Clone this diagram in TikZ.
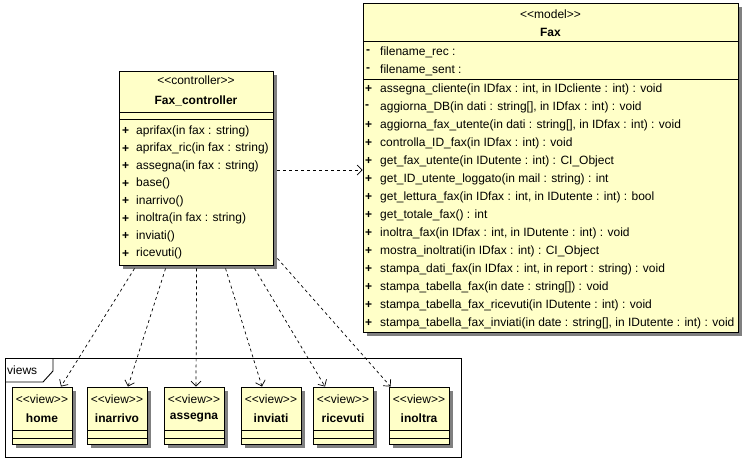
\documentclass[tikz,border=0pt]{standalone}
\usepackage{fontspec}
\setmainfont{Liberation Sans}
\usetikzlibrary{shadows}
\usetikzlibrary{arrows.meta}
\definecolor{umlyellow}{RGB}{255,255,200}
\newcommand{\stereo}[1]{<\kern0pt<#1>\kern0pt>}
\tikzstyle{umlbox}=[draw,fill=umlyellow,line width=0.9pt,inner sep=0pt,drop shadow={shadow xshift=4pt,shadow yshift=-4pt,fill=black!50,opacity=1}]
\tikzstyle{umltext}=[anchor=west,inner sep=0pt]
\tikzstyle{umlvis}=[anchor=west,inner sep=0pt,font=\fontsize{12}{14}\selectfont\bfseries]
\tikzstyle{umlhead}=[inner sep=0pt]
\tikzstyle{umlname}=[inner sep=0pt,font=\fontsize{12}{14}\selectfont\bfseries]
\tikzstyle{umlline}=[line width=0.9pt]
\tikzstyle{deparrow}=[line width=0.7pt,dash pattern=on 3pt off 3pt,-{Straight Barb[length=5pt,width=10pt]}]

\begin{document}
\begin{tikzpicture}[x=1pt,y=-1pt,font=\fontsize{12}{14}\selectfont]
	\useasboundingbox (0,0) rectangle (745,461);
%	\draw[help lines,step=10pt] (0,0) grid (745,461);

	% model
	\node[umlbox,minimum width=375pt,minimum height=329pt] (fax) at (550.5,167.5) {};
	\node[umlhead] (faxst) at (550.5,14) {\stereo{model}};
	\node[umlname] (faxname) at (550.5,32) {Fax};
	\draw[umlline] (363,41) -- (738,41);
	\draw[umlline] (363,79) -- (738,79);
	\foreach \v / \t [count=\i] in {-/{filename\_rec :},-/{filename\_sent :}} {
		\node[umlvis] (faxv\i) at (366,{52+18*(\i-1)}) {\v};
		\node[umltext] (faxa\i) at (380,{52+18*(\i-1)}) {\t};
	}
	\foreach \v / \t [count=\i] in {
		+/{assegna\_cliente(in IDfax : int, in IDcliente : int) : void},
		-/{aggiorna\_DB(in dati : string[], in IDfax : int) : void},
		+/{aggiorna\_fax\_utente(in dati : string[], in IDfax : int) : void},
		+/{controlla\_ID\_fax(in IDfax : int) : void},
		+/{get\_fax\_utente(in IDutente : int) : CI\_Object},
		+/{get\_ID\_utente\_loggato(in mail : string) : int},
		+/{get\_lettura\_fax(in IDfax : int, in IDutente : int) : bool},
		+/{get\_totale\_fax() : int},
		+/{inoltra\_fax(in IDfax : int, in IDutente : int) : void},
		+/{mostra\_inoltrati(in IDfax : int) : CI\_Object},
		+/{stampa\_dati\_fax(in IDfax : int, in report : string) : void},
		+/{stampa\_tabella\_fax(in date : string[]) : void},
		+/{stampa\_tabella\_fax\_ricevuti(in IDutente : int) : void},
		+/{stampa\_tabella\_fax\_inviati(in date : string[], in IDutente : int) : void}} {
		\node[umlvis] (faxmv\i) at (365,{89+18*(\i-1)}) {\v};
		\node[umltext] (faxm\i) at (380,{89+18*(\i-1)}) {\t};
	}

	% controller
	\node[umlbox,minimum width=154pt,minimum height=194pt] (ctrl) at (196,168) {};
	\node[umlhead] (ctrlst) at (196,80) {\stereo{controller}};
	\node[umlname] (ctrlname) at (196,101) {Fax\_controller};
	\draw[umlline] (119,112) -- (273,112);
	\draw[umlline] (119,119) -- (273,119);
	\foreach \t [count=\i] in {aprifax(in fax : string),aprifax\_ric(in fax : string),assegna(in fax : string),base(),inarrivo(),inoltra(in fax : string),inviati(),ricevuti()} {
		\node[umlvis] (ctrlmv\i) at (122,{131+17.5*(\i-1)}) {+};
		\node[umltext] (ctrlm\i) at (136,{131+17.5*(\i-1)}) {\t};
	}

	% views package
	\draw[umlline] (5,358) rectangle (461,457);
	\draw[umlline] (5,382) -- (43,382) -- (53,371) -- (53,358);
	\node[umltext] (pkg) at (7,370) {views};

	\foreach \x / \n in {12/home,87/inarrivo,164/assegna,241/inviati,313/ricevuti,389/inoltra} {
		\node[umlbox,minimum width=60pt,minimum height=57pt] (\n) at ({\x+30},415.5) {};
		\node[umlhead] (\n st) at ({\x+30},399) {\stereo{view}};
		\node[umlname] (\n name) at ({\x+30},418) {\n};
		\draw[umlline] (\x,430) -- ({\x+60},430);
		\draw[umlline] (\x,438) -- ({\x+60},438);
	}

	% dependencies
	\draw[deparrow] ([xshift=4pt,yshift=-2pt]ctrl.east) -- ([yshift=-2.5pt]fax.west);
	\foreach \n / \s / \e in {home/16/19,inarrivo/47/11,assegna/78/2,inviati/107/-9,ricevuti/136/-18} {
		\draw[deparrow] ([xshift=\s pt,yshift=-3pt]ctrl.south west) -- ([xshift=\e pt]\n.north);
	}
	\draw[deparrow] ([xshift=4pt,yshift=7pt]ctrl.south east) -- ([xshift=2pt]inoltra.north west);
\end{tikzpicture}
\end{document}
